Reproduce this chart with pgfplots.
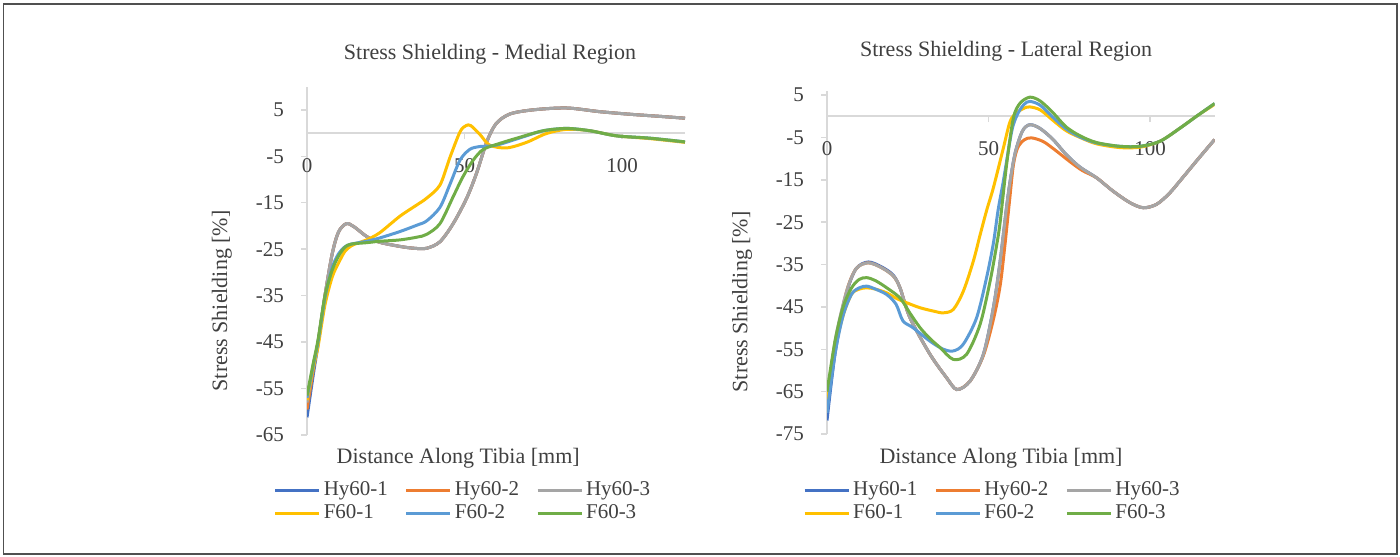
\documentclass[border=0pt]{standalone}
\usepackage{fontspec}
\setmainfont{Liberation Serif}
\usepackage{pgfplots}
\pgfplotsset{compat=1.18}
\definecolor{cA}{HTML}{4472C4}
\definecolor{cB}{HTML}{ED7D31}
\definecolor{cC}{HTML}{A5A5A5}
\definecolor{cD}{HTML}{FFC000}
\definecolor{cE}{HTML}{5B9BD5}
\definecolor{cF}{HTML}{70AD47}
\definecolor{axgrey}{HTML}{D9D9D9}
\definecolor{txt}{HTML}{404040}
\definecolor{frm}{HTML}{505050}
\pgfplotsset{
  ser/.style={smooth, tension=0.5, line width=1.5pt, no markers},
  myax/.style={
    scale only axis,
    axis x line=middle, axis y line=left,
    axis line style={draw=axgrey, line width=0.75pt, -},
    xmin=0, xmax=120, xtick={0,50,100}, xticklabels={0,50,100},
    hide obscured x ticks=false,
    tick style={draw=axgrey, line width=0.75pt},
    major tick length=3pt, tick align=outside,
    ticklabel style={font=\fontsize{10.5}{12}\selectfont, text=txt},
    xticklabel style={yshift=-6pt},
    yticklabel style={xshift=-5pt},
    legend columns=3, legend cell align=left,
    legend image code/.code={\draw[#1] (0pt,0pt) -- (22pt,0pt);},
    legend style={draw=none, fill=none, inner sep=0pt,
      font=\fontsize{10.5}{11}\selectfont, text=txt,
      row sep=-1pt,
      nodes={inner xsep=1.5pt},
      /tikz/every even column/.append style={column sep=7pt}},
  }
}
\begin{document}
\begin{tikzpicture}
\useasboundingbox (0,0) rectangle (700pt,278pt);
\draw[frm, line width=0.9pt] (1.75pt,1pt) rectangle (698.5pt,276pt);
% ---------------- Medial
\begin{axis}[myax,
  at={(153.5pt,60.5pt)}, anchor=south west,
  width=189pt, height=174.2pt,
  ymin=-65, ymax=10,
  ytick={-65,-55,-45,-35,-25,-15,-5,5},
  yticklabels={-65,-55,-45,-35,-25,-15,-5,5},
  title={Stress Shielding - Medial Region},
  xlabel={Distance Along Tibia [mm]},
  ylabel={Stress Shielding [\%]},
  every axis title/.style={at={(axis description cs:0.484,1.094)}, anchor=center, font=\fontsize{11}{13}\selectfont, text=txt},
  every axis x label/.style={at={(axis description cs:0.40,-0.066)}, anchor=center, font=\fontsize{11}{13}\selectfont, text=txt},
  every axis y label/.style={at={(axis description cs:-0.225,0.385)}, anchor=center, rotate=90, font=\fontsize{11}{13}\selectfont, text=txt},
  legend style={at={(axis description cs:0.414,-0.192)}, anchor=center},
]
\addplot[ser, cA] coordinates {(0,-61.2) (2,-52) (3.5,-45.5) (5.7,-35) (8,-26) (10,-21.3) (12.5,-19.5) (15,-20.2) (19,-22.3) (23,-23.5) (29.5,-24.4) (34,-24.8) (38,-24.8) (42.2,-23.4) (46.4,-19.5) (50.7,-14) (53.9,-8.5) (57,-2) (60,2) (64.4,4.1) (71.8,5.0) (82.4,5.4) (93,4.6) (103.5,4.0) (112,3.6) (120,3.2)};
\addlegendentry{Hy60-1}
\addplot[ser, cB] coordinates {(0,-59.5) (2,-51) (3.5,-45) (5.7,-35) (8,-26) (10,-21.3) (12.5,-19.5) (15,-20.2) (19,-22.3) (23,-23.5) (29.5,-24.4) (34,-24.8) (38,-24.8) (42.2,-23.4) (46.4,-19.5) (50.7,-14) (53.9,-8.5) (57,-2) (60,2) (64.4,4.1) (71.8,5.0) (82.4,5.4) (93,4.6) (103.5,4.0) (112,3.6) (120,3.2)};
\addlegendentry{Hy60-2}
\addplot[ser, cC] coordinates {(0,-58) (2,-50) (3.5,-45) (5.7,-35) (8,-26) (10,-21.3) (12.5,-19.5) (15,-20.2) (19,-22.3) (23,-23.5) (29.5,-24.4) (34,-24.8) (38,-24.8) (42.2,-23.4) (46.4,-19.5) (50.7,-14) (53.9,-8.5) (57,-2) (60,2) (64.4,4.1) (71.8,5.0) (82.4,5.4) (93,4.6) (103.5,4.0) (112,3.6) (120,3.2)};
\addlegendentry{Hy60-3}
\addplot[ser, cD] coordinates {(0,-57.5) (2,-50.5) (3.5,-46) (5.7,-37) (8,-31) (10,-28) (12,-25.5) (14,-24.3) (16,-23.7) (18.9,-23) (23,-21.5) (29.5,-17.9) (34.8,-15.5) (38,-14) (42.2,-11.2) (45.4,-5.2) (48.6,0.3) (50.5,1.6) (52,1.6) (54.9,-0.3) (58,-2.6) (63.4,-3.2) (69.7,-2.0) (76,-0.1) (82.4,0.8) (89.8,0.5) (98.3,-0.6) (108.9,-1.2) (120,-2.0)};
\addlegendentry{F60-1}
\addplot[ser, cE] coordinates {(0,-57) (2,-50) (3.5,-45) (5.7,-35.5) (8,-29) (10,-26) (12,-24.5) (14,-23.9) (18.9,-23.3) (23,-22.6) (29.5,-21.2) (35,-19.8) (38,-18.9) (42.2,-16) (45.4,-11) (48.6,-5.8) (51.7,-3.5) (54.9,-2.9) (58,-2.8) (61.3,-2.4) (68.7,-0.8) (75,0.5) (82.4,1.0) (89.8,0.5) (98.3,-0.6) (108.9,-1.1) (120,-1.9)};
\addlegendentry{F60-2}
\addplot[ser, cF] coordinates {(0,-56.5) (2,-49.5) (3.5,-44.5) (5.7,-35) (8,-29.5) (10,-26.5) (12,-24.6) (14,-23.9) (18.9,-23.6) (23,-23.3) (29.5,-23.0) (35,-22.4) (38,-21.8) (42.2,-19.5) (46.4,-13.7) (49.5,-9.4) (52.8,-5.8) (56,-3.5) (61.3,-2.2) (66.6,-1.1) (75,0.5) (82.4,1.0) (89.8,0.5) (98.3,-0.6) (108.9,-1.1) (120,-1.9)};
\addlegendentry{F60-3}
\end{axis}
% ---------------- Lateral
\begin{axis}[myax,
  at={(413.5pt,61pt)}, anchor=south west,
  width=193.8pt, height=171.6pt,
  ymin=-75, ymax=6,
  ytick={-75,-65,-55,-45,-35,-25,-15,-5,5},
  yticklabels={-75,-65,-55,-45,-35,-25,-15,-5,5},
  title={Stress Shielding - Lateral Region},
  xlabel={Distance Along Tibia [mm]},
  ylabel={Stress Shielding [\%]},
  every axis title/.style={at={(axis description cs:0.462,1.116)}, anchor=center, font=\fontsize{11}{13}\selectfont, text=txt},
  every axis x label/.style={at={(axis description cs:0.449,-0.07)}, anchor=center, font=\fontsize{11}{13}\selectfont, text=txt},
  every axis y label/.style={at={(axis description cs:-0.219,0.385)}, anchor=center, rotate=90, font=\fontsize{11}{13}\selectfont, text=txt},
  legend style={at={(axis description cs:0.428,-0.198)}, anchor=center},
]
\addplot[ser, cA] coordinates {(0,-71.8) (2.5,-56) (6,-42) (9,-36) (12.8,-34.4) (17,-35.6) (20.5,-37.5) (22.6,-40.5) (25.7,-47.6) (31.9,-56.2) (37,-61.7) (40.2,-64.5) (44.3,-62.5) (48.4,-56.2) (51.5,-45.2) (53.6,-34.2) (55.5,-22) (56.7,-15.3) (58.3,-8.5) (60.5,-3.5) (62.8,-2) (66,-2.9) (70,-5.5) (74,-9) (78.3,-12) (83.4,-14.5) (88.6,-17.7) (93.8,-20.4) (97.9,-21.6) (102,-20.8) (106,-18.2) (110,-14.6) (115,-10) (120,-5.5)};
\addlegendentry{Hy60-1}
\addplot[ser, cB] coordinates {(0,-69) (2.5,-54) (6,-41.5) (9,-36) (12.8,-34.6) (17,-35.8) (20.5,-37.7) (22.6,-40.5) (25.7,-47.6) (31.9,-56.2) (37,-61.7) (40.2,-64.5) (44.3,-62.5) (48.4,-56.5) (51.5,-48) (53.6,-40) (55,-31) (56.5,-20) (57.7,-11.5) (59,-7.5) (61,-5.6) (63.3,-5.1) (67,-6) (71,-8.2) (75,-10.6) (79,-12.8) (83.4,-14.5) (88.6,-17.7) (93.8,-20.4) (97.9,-21.6) (102,-20.8) (106,-18.2) (110,-14.6) (115,-10) (120,-5.5)};
\addlegendentry{Hy60-2}
\addplot[ser, cC] coordinates {(0,-68) (2.5,-53) (6,-41.5) (9,-36) (12.8,-34.6) (17,-35.8) (20.5,-37.7) (22.6,-40.5) (25.7,-47.6) (31.9,-56.2) (37,-61.7) (40.2,-64.5) (44.3,-62.5) (48.4,-56.2) (51.5,-45.2) (53.6,-34.2) (55.5,-22) (56.7,-15.3) (58.3,-8.5) (60.5,-3.5) (62.8,-2) (66,-2.9) (70,-5.5) (74,-9) (78.3,-12) (83.4,-14.5) (88.6,-17.7) (93.8,-20.4) (97.9,-21.6) (102,-20.8) (106,-18.2) (110,-14.6) (115,-10) (120,-5.5)};
\addlegendentry{Hy60-3}
\addplot[ser, cD] coordinates {(0,-68) (2.5,-55) (5,-47) (7.6,-42) (10,-40.8) (12.3,-40.5) (15,-40.8) (18.5,-41.7) (21.5,-43) (24.6,-44) (28.8,-45.2) (33,-46) (36,-46.4) (39.1,-45.6) (42.2,-41.3) (45.3,-34.2) (47.4,-28) (49.5,-22) (51.5,-16.9) (54.6,-7.5) (56.7,-1.2) (58.7,0.8) (61,1.9) (62.8,2.2) (66,1.5) (70,-1) (74,-3.4) (78.3,-5) (83.4,-6.5) (90.7,-7.4) (96.9,-7.3) (103.1,-5.9) (109.3,-2.8) (114.4,0) (120,2.8)};
\addlegendentry{F60-1}
\addplot[ser, cE] coordinates {(0,-70) (2.5,-56) (5,-47) (7.6,-42) (10,-40.5) (12.3,-40.1) (15,-40.8) (18.5,-42.1) (21.4,-44.4) (23.5,-48.3) (26.6,-49.9) (31.9,-53.1) (36,-55) (39.1,-55.4) (42.2,-53.8) (46.3,-47.6) (49.4,-38.1) (51.5,-30) (53,-22) (54.6,-15.3) (57.2,-3.5) (59,0.5) (61,2.8) (62.8,3.5) (66,2.6) (70,-0.3) (74,-3) (78.3,-4.9) (83.4,-6.3) (90.7,-7.1) (96.9,-7.1) (103.1,-5.9) (109.3,-2.8) (114.4,0) (120,3.0)};
\addlegendentry{F60-2}
\addplot[ser, cF] coordinates {(0,-65) (2.5,-53) (5,-45) (7.6,-40.5) (10,-38.5) (12.3,-38.1) (15,-38.8) (18.5,-40.5) (22.6,-42.9) (25.7,-46.5) (28.8,-49.9) (31.9,-52.5) (35,-54.6) (39.1,-57.4) (43.2,-56.2) (47.4,-49.1) (50.5,-38.9) (52.5,-30.5) (53.6,-25) (55.6,-11.4) (57.7,-0.4) (59.8,3.1) (62.8,4.5) (66,3.6) (70,0.8) (74,-2.5) (78.3,-4.6) (83.4,-6.2) (90.7,-7.1) (96.9,-7.1) (103.1,-5.9) (109.3,-2.8) (114.4,0) (120,3.0)};
\addlegendentry{F60-3}
\end{axis}
\end{tikzpicture}
\end{document}
